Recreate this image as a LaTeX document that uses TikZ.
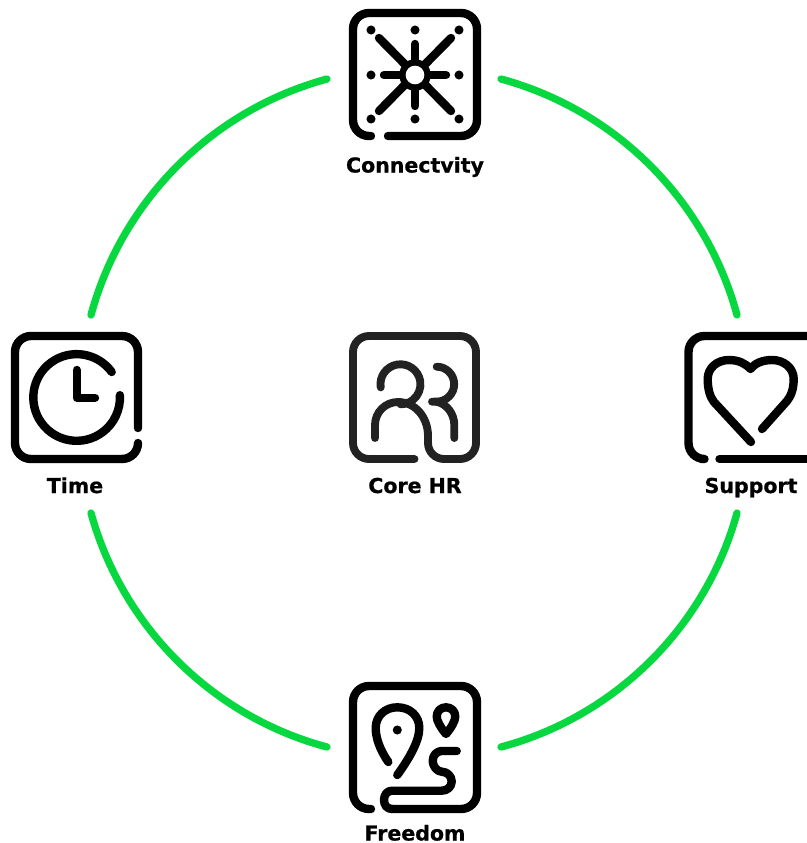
\documentclass[tikz,border=0pt]{standalone}
\usepackage{fontspec}
\newfontfamily\labfont[BoldFeatures={FakeBold=0.7}]{DejaVu Sans}
\definecolor{ringgreen}{HTML}{08D840}
\definecolor{coregray}{HTML}{222222}
\tikzset{
  x=0.75pt,y=-0.75pt,
  ring/.style={draw=ringgreen,line width=5.5pt,line cap=round,bend right=29.8,looseness=.911},
  glyph/.style={draw=black,line width=6.3pt,line cap=round,line join=round},
  coreglyph/.style={glyph,draw=coregray,line width=5.9pt},
  frame/.style={rounded corners=12pt},
  dot/.style={fill=black,radius=3.4pt},
  lab/.style={font=\labfont\bfseries\fontsize{15.4}{17}\selectfont,text=black,inner sep=0pt,anchor=base},
}
\begin{document}
\begin{tikzpicture}
\path[use as bounding box,clip] (0,0) rectangle (807,843);
% ring end points
\coordinate (tl1) at (327,79);
\coordinate (tl2) at (91,315);
\coordinate (tr1) at (501,79);
\coordinate (tr2) at (737,315);
\coordinate (bl1) at (91,513);
\coordinate (bl2) at (327,747);
\coordinate (br1) at (737,513);
\coordinate (br2) at (501,747);
\draw[ring] (tl1) to (tl2);
\draw[ring] (bl1) to (bl2);
\draw[ring] (br2) to (br1);
\draw[ring] (tr2) to (tr1);
% labels
\node[lab] (lconn) at (415,172.5) {Connectvity};
\node[lab] (ltime) at (75,493) {Time};
\node[lab] (lcore) at (415,493) {Core HR};
\node[lab] (lsupp) at (751,493) {Support};
\node[lab] (lfree) at (415,840.5) {Freedom};
% connectivity icon
\draw[glyph,frame] (371,136) -- (353,136) -- (353,13) -- (477,13) -- (477,136) -- (388,136);
\foreach \dx in {371,415,459} \foreach \dy in {30,75,119} {
  \ifnum\dx=415 \ifnum\dy=75 \else \fill[dot] (\dx,\dy) circle[]; \fi \else \fill[dot] (\dx,\dy) circle[]; \fi
}
\draw[glyph] (415,44) -- (415,106);
\draw[glyph] (384,75) -- (446,75);
\draw[glyph] (379,38) -- (451,111);
\draw[glyph] (451,38) -- (379,111);
\fill[black] (415,75) circle[radius=11.8pt];
\fill[white] (415,75) circle[radius=7pt];
% time icon
\draw[glyph,frame] (138,428) -- (138,336) -- (15,336) -- (15,459) -- (122,459);
\draw[glyph] (122,459) arc[start angle=-90,end angle=0,radius=12pt];
\draw[glyph] (111.7,372) arc[start angle=36,end angle=363,radius=32.5pt];
\draw[glyph] (76.7,370) -- (76.7,397.7) -- (95,397.7);
% core icon
\draw[coreglyph,frame] (414.5,459) -- (353,459) -- (353,336) -- (476,336) -- (476,459) -- (428,459) -- (428,436);
\draw[coreglyph] (380.7,387.4) arc[start angle=189,end angle=-90,radius=15pt];
\draw[coreglyph] (375,438) -- (375,425) arc[start angle=180,end angle=90,radius=17.25pt] .. controls (415,402) and (428,417) .. (428,436);
\draw[coreglyph] (436.7,366.7) arc[start angle=90,end angle=-90,radius=13.1pt] -- (432,401.7);
\draw[coreglyph] (436.7,401.7) .. controls (447,404) and (454.3,414) .. (454.3,425) -- (454.3,438);
% support icon
\draw[glyph,frame] (701,459) -- (688.5,459) -- (688.5,336) -- (830,336);
\draw[glyph] (830,459) -- (719.5,459);
\draw[glyph] (751,442) -- (714,402) .. controls (710,397) and (707.7,389) .. (707.7,379) .. controls (707.7,368) and (717,360) .. (729,360) .. controls (738,360) and (745,363) .. (750.5,369) .. controls (755,363) and (763,360) .. (772,360) .. controls (784,360) and (793.7,368) .. (793.7,379) .. controls (793.7,389) and (791,396) .. (787,401) -- (762,429);
% freedom icon
\draw[glyph,frame] (371,809) -- (353,809) -- (353,686) -- (477,686) -- (477,809) -- (392,809);
\draw[glyph] (392,809) .. controls (387,809) and (384,805) .. (384,800) .. controls (384,795) and (387,790.7) .. (392,790.7) -- (441.7,790.7) .. controls (447,790.7) and (451.7,787) .. (451.7,781.5) .. controls (451.7,776) and (447,771.7) .. (441.7,771.7) .. controls (437,771.7) and (432.7,766) .. (432.7,761) .. controls (432.7,755) and (437,751) .. (441.7,751) -- (456.7,751);
\draw[glyph] (388.3,762) .. controls (380,750) and (375.7,738) .. (375.7,728) .. controls (375.7,716) and (385,707.3) .. (397.3,707.3) .. controls (410,707.3) and (419.3,716) .. (419.3,728) .. controls (419.3,742) and (408,760) .. (397.3,775);
\fill[dot] (397.3,730) circle[];
\draw[glyph] (446,734) .. controls (441,728) and (436.7,721) .. (436.7,716.5) .. controls (436.7,711) and (441,707.3) .. (446,707.3) .. controls (451,707.3) and (455.3,711) .. (455.3,716.5) .. controls (455.3,721) and (451,728) .. (446,734) -- cycle;
\end{tikzpicture}
\end{document}
